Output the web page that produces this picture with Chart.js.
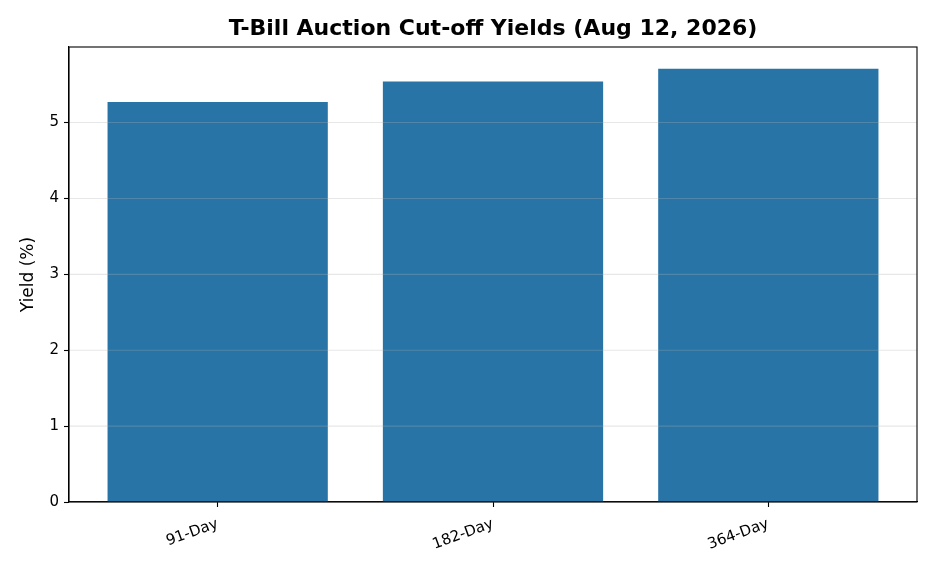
<!DOCTYPE html>
<html>
<head>
<meta charset="utf-8">
<script src="https://cdn.jsdelivr.net/npm/chart.js@4/dist/chart.umd.min.js"></script>
<style>
  html, body { margin: 0; padding: 0; background: #fff; }
  #wrap { width: 936px; height: 572px; }
</style>
</head>
<body>
<div id="wrap"><canvas id="chart"></canvas></div>
<script>
// chart data
const categories = ['91-Day', '182-Day', '364-Day'];
const yields = [5.27, 5.54, 5.71];
const yTicks = [0, 1, 2, 3, 4, 5];

const chartTitle = 'T-Bill Auction Cut-off Yields (Aug 12, 2026)';

Chart.defaults.font.family = 'DejaVu Sans';
Chart.defaults.font.size = 15;
Chart.defaults.color = '#000';

// grid over the bars (like matplotlib), box frame, and title centred on the axes
const axesExtras = {
  id: 'axesExtras',
  afterDatasetsDraw(chart) {
    const { ctx, chartArea } = chart;
    const y = chart.scales.y;
    ctx.save();
    ctx.strokeStyle = 'rgba(176,176,176,0.3)';
    ctx.lineWidth = 1.1;
    y.ticks.forEach(t => {
      const py = y.getPixelForValue(t.value);
      ctx.beginPath();
      ctx.moveTo(chartArea.left, py);
      ctx.lineTo(chartArea.right, py);
      ctx.stroke();
    });
    ctx.restore();
  },
  afterDraw(chart) {
    const { ctx, chartArea } = chart;
    ctx.save();
    ctx.strokeStyle = '#000';
    ctx.lineWidth = 1.1;
    ctx.strokeRect(chartArea.left, chartArea.top, chartArea.right - chartArea.left, chartArea.bottom - chartArea.top);
    ctx.font = 'bold 22px "DejaVu Sans"';
    ctx.fillStyle = '#000';
    ctx.textAlign = 'center';
    ctx.textBaseline = 'middle';
    ctx.fillText(chartTitle, (chartArea.left + chartArea.right) / 2, 29);
    ctx.restore();
  }
};

const points = categories.map((c, i) => ({ x: i, y: yields[i] }));
const yMax = Math.max(...yields) * 1.05;

new Chart(document.getElementById('chart'), {
  type: 'bar',
  data: {
    datasets: [{
      data: points,
      backgroundColor: '#2874a6',
      borderWidth: 0,
      barPercentage: 1,
      categoryPercentage: 0.8
    }]
  },
  options: {
    responsive: true,
    maintainAspectRatio: false,
    animation: false,
    layout: { padding: { left: 18, right: 19, top: 47, bottom: 0 } },
    plugins: {
      legend: { display: false },
      tooltip: { enabled: false }
    },
    scales: {
      x: {
        type: 'linear',
        min: -0.54,
        max: categories.length - 1 + 0.54,
        offset: false,
        afterBuildTicks: (scale) => { scale.ticks = categories.map((c, i) => ({ value: i })); },
        afterFit: (scale) => { scale.height = 70; },
        grid: { offset: false, drawOnChartArea: false, tickColor: '#000', tickLength: 5, tickWidth: 1.1 },
        border: { color: '#000', width: 1.1 },
        ticks: {
          minRotation: 20,
          maxRotation: 20,
          padding: 8,
          callback: (v) => categories[v]
        }
      },
      y: {
        min: 0,
        max: yMax,
        afterBuildTicks: (scale) => { scale.ticks = yTicks.map(v => ({ value: v })); },
        afterFit: (scale) => { scale.width = 51; },
        grid: { drawOnChartArea: false, tickColor: '#000', tickLength: 5, tickWidth: 1.1 },
        border: { color: '#000', width: 1.1 },
        ticks: { padding: 5 },
        title: { display: true, text: 'Yield (%)', font: { size: 17 }, padding: { top: 0, bottom: 0 } }
      }
    }
  },
  plugins: [axesExtras]
});
</script>
</body>
</html>
